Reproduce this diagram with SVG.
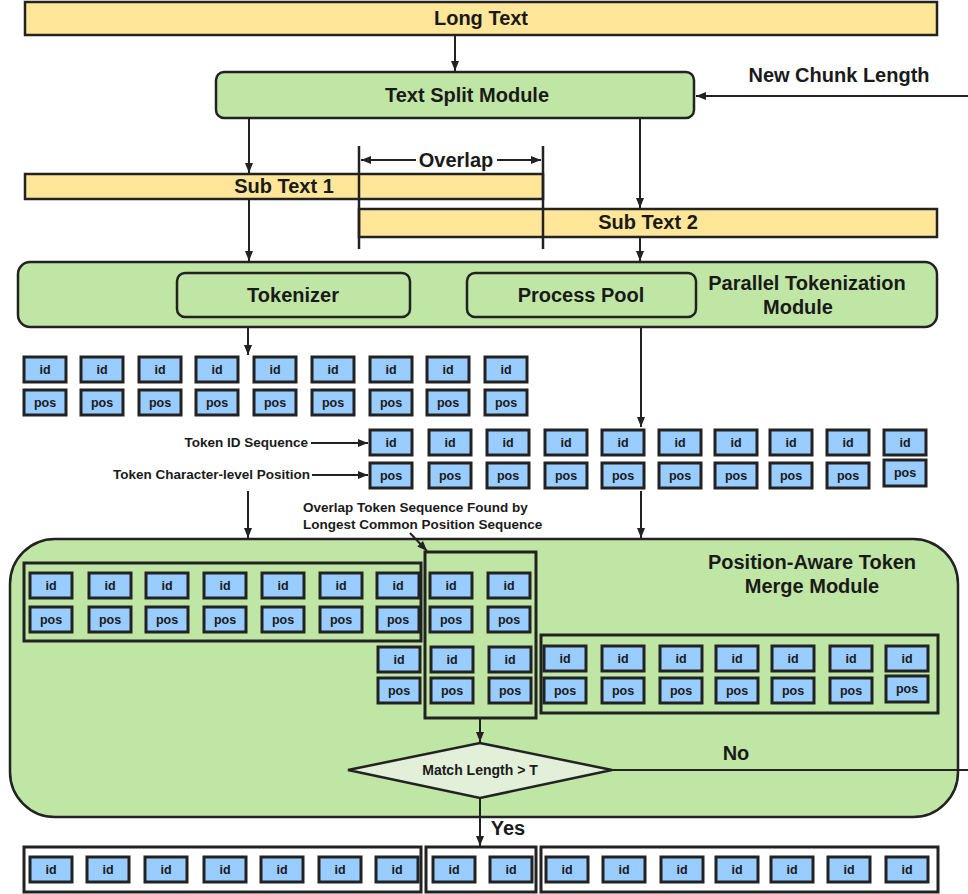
<svg xmlns="http://www.w3.org/2000/svg" width="968" height="894" viewBox="0 0 968 894">
  <defs>
    <marker id="arrow" markerUnits="userSpaceOnUse" markerWidth="10" markerHeight="8" refX="10" refY="4" orient="auto-start-reverse">
      <path d="M0,0 L10,4 L0,8 z" fill="#222"/>
    </marker>
    <style>
      .lbl { font-family: "Liberation Sans", Arial, sans-serif; font-weight: bold; fill: #1a1a1a; }
      .big { font-size: 20px; }
      .small { font-size: 13.5px; }
      .tok { font-size: 12.5px; }
      .mid { text-anchor: middle; }
      .end { text-anchor: end; }
      .yellow { fill: #FFE699; stroke: #222; stroke-width: 2.5; }
      .green { fill: #C0E6A5; stroke: #222; stroke-width: 2.5; }
      .frame { fill: none; stroke: #222; stroke-width: 3; }
      .box { fill: #99CCFF; stroke: #222; stroke-width: 3; }
      .conn { stroke: #222; stroke-width: 2; fill: none; }
      .guide { stroke: #222; stroke-width: 2.5; }
    </style>
  </defs>

  <!-- Input text -->
  <g id="long-text">
    <rect class="yellow" x="25" y="2" width="912" height="33"/>
    <text class="lbl big mid" x="481" y="25">Long Text</text>
  </g>

  <g id="text-split-module">
    <rect class="green" x="216" y="72" width="478" height="46" rx="8"/>
    <text class="lbl big mid" x="467" y="102">Text Split Module</text>
  </g>

  <g id="new-chunk-length">
    <text class="lbl big mid" x="839" y="82">New Chunk Length</text>
  </g>

  <!-- Overlapping sub texts -->
  <g id="sub-text-1">
    <rect class="yellow" x="25" y="174" width="518" height="25"/>
    <text class="lbl big mid" x="284" y="193">Sub Text 1</text>
  </g>
  <g id="sub-text-2">
    <rect class="yellow" x="359" y="209" width="578" height="28"/>
    <text class="lbl big mid" x="648" y="229">Sub Text 2</text>
  </g>

  <g id="overlap">
    <line class="guide" x1="359" y1="146" x2="359" y2="249"/>
    <line class="guide" x1="543" y1="146" x2="543" y2="249"/>
    <line class="conn" x1="361" y1="160" x2="416" y2="160" marker-start="url(#arrow)"/>
    <line class="conn" x1="497" y1="160" x2="541" y2="160" marker-end="url(#arrow)"/>
    <text class="lbl big mid" x="456" y="167">Overlap</text>
  </g>

  <!-- Parallel tokenization -->
  <g id="parallel-tokenization-module">
    <rect class="green" x="18" y="262" width="919" height="65" rx="12"/>
    <text class="lbl big mid" x="807" y="290">Parallel Tokenization</text>
    <text class="lbl big mid" x="798" y="314">Module</text>
  </g>
  <g id="tokenizer">
    <rect class="green" x="177" y="273" width="233" height="44" rx="8"/>
    <text class="lbl big mid" x="293" y="302">Tokenizer</text>
  </g>
  <g id="process-pool">
    <rect class="green" x="467" y="273" width="229" height="44" rx="8"/>
    <text class="lbl big mid" x="581" y="302">Process Pool</text>
  </g>

  <!-- Token rows from sub text 1 -->
  <g id="tokens-sub-text-1">
    <g class="box-row">
      <rect class="box" x="24" y="357" width="42" height="25"/><text class="lbl tok mid" x="45" y="374">id</text>
      <rect class="box" x="81" y="357" width="42" height="25"/><text class="lbl tok mid" x="102" y="374">id</text>
      <rect class="box" x="139" y="357" width="42" height="25"/><text class="lbl tok mid" x="160" y="374">id</text>
      <rect class="box" x="196" y="357" width="42" height="25"/><text class="lbl tok mid" x="217" y="374">id</text>
      <rect class="box" x="254" y="357" width="42" height="25"/><text class="lbl tok mid" x="275" y="374">id</text>
      <rect class="box" x="312" y="357" width="42" height="25"/><text class="lbl tok mid" x="333" y="374">id</text>
      <rect class="box" x="370" y="357" width="42" height="25"/><text class="lbl tok mid" x="391" y="374">id</text>
      <rect class="box" x="427" y="357" width="42" height="25"/><text class="lbl tok mid" x="448" y="374">id</text>
      <rect class="box" x="485" y="357" width="42" height="25"/><text class="lbl tok mid" x="506" y="374">id</text>
    </g>
    <g class="box-row">
      <rect class="box" x="24" y="390" width="42" height="25"/><text class="lbl tok mid" x="45" y="407">pos</text>
      <rect class="box" x="81" y="390" width="42" height="25"/><text class="lbl tok mid" x="102" y="407">pos</text>
      <rect class="box" x="139" y="390" width="42" height="25"/><text class="lbl tok mid" x="160" y="407">pos</text>
      <rect class="box" x="196" y="390" width="42" height="25"/><text class="lbl tok mid" x="217" y="407">pos</text>
      <rect class="box" x="254" y="390" width="42" height="25"/><text class="lbl tok mid" x="275" y="407">pos</text>
      <rect class="box" x="312" y="390" width="42" height="25"/><text class="lbl tok mid" x="333" y="407">pos</text>
      <rect class="box" x="370" y="390" width="42" height="25"/><text class="lbl tok mid" x="391" y="407">pos</text>
      <rect class="box" x="427" y="390" width="42" height="25"/><text class="lbl tok mid" x="448" y="407">pos</text>
      <rect class="box" x="485" y="390" width="42" height="25"/><text class="lbl tok mid" x="506" y="407">pos</text>
    </g>
  </g>

  <!-- Token rows from sub text 2 -->
  <g id="tokens-sub-text-2">
    <g class="box-row">
      <rect class="box" x="370" y="430" width="42" height="25"/><text class="lbl tok mid" x="391" y="447">id</text>
      <rect class="box" x="429" y="430" width="42" height="25"/><text class="lbl tok mid" x="450" y="447">id</text>
      <rect class="box" x="487" y="430" width="42" height="25"/><text class="lbl tok mid" x="508" y="447">id</text>
      <rect class="box" x="545" y="430" width="42" height="25"/><text class="lbl tok mid" x="566" y="447">id</text>
      <rect class="box" x="602" y="430" width="42" height="25"/><text class="lbl tok mid" x="623" y="447">id</text>
      <rect class="box" x="659" y="430" width="42" height="25"/><text class="lbl tok mid" x="680" y="447">id</text>
      <rect class="box" x="715" y="430" width="42" height="25"/><text class="lbl tok mid" x="736" y="447">id</text>
      <rect class="box" x="770" y="430" width="42" height="25"/><text class="lbl tok mid" x="791" y="447">id</text>
      <rect class="box" x="827" y="430" width="42" height="25"/><text class="lbl tok mid" x="848" y="447">id</text>
      <rect class="box" x="884" y="430" width="42" height="25"/><text class="lbl tok mid" x="905" y="447">id</text>
    </g>
    <g class="box-row">
      <rect class="box" x="370" y="463" width="42" height="25"/><text class="lbl tok mid" x="391" y="480">pos</text>
      <rect class="box" x="429" y="463" width="42" height="25"/><text class="lbl tok mid" x="450" y="480">pos</text>
      <rect class="box" x="487" y="463" width="42" height="25"/><text class="lbl tok mid" x="508" y="480">pos</text>
      <rect class="box" x="545" y="463" width="42" height="25"/><text class="lbl tok mid" x="566" y="480">pos</text>
      <rect class="box" x="602" y="463" width="42" height="25"/><text class="lbl tok mid" x="623" y="480">pos</text>
      <rect class="box" x="659" y="463" width="42" height="25"/><text class="lbl tok mid" x="680" y="480">pos</text>
      <rect class="box" x="715" y="463" width="42" height="25"/><text class="lbl tok mid" x="736" y="480">pos</text>
      <rect class="box" x="770" y="463" width="42" height="25"/><text class="lbl tok mid" x="791" y="480">pos</text>
      <rect class="box" x="827" y="463" width="42" height="25"/><text class="lbl tok mid" x="848" y="480">pos</text>
      <rect class="box" x="884" y="460" width="42" height="26"/><text class="lbl tok mid" x="905" y="477">pos</text>
    </g>
  </g>

  <g id="token-legend">
    <text class="lbl small end" x="308" y="447">Token ID Sequence</text>
    <text class="lbl small end" x="310" y="479">Token Character-level Position</text>
  </g>

  <!-- Merge module -->
  <g id="merge-module">
    <rect class="green" x="10" y="539" width="948" height="278" rx="45"/>
    <text class="lbl big mid" x="812" y="569">Position-Aware Token</text>
    <text class="lbl big mid" x="812" y="593">Merge Module</text>
  </g>

  <g id="overlap-note">
    <text class="lbl small" x="303" y="512">Overlap Token Sequence Found by</text>
    <text class="lbl small" x="303" y="529">Longest Common Position Sequence</text>
  </g>

  <g id="merge-left-tokens">
    <rect class="frame" x="24" y="563" width="397" height="78"/>
    <rect class="box" x="30" y="573" width="42" height="25"/><text class="lbl tok mid" x="51" y="590">id</text>
    <rect class="box" x="89" y="573" width="42" height="25"/><text class="lbl tok mid" x="110" y="590">id</text>
    <rect class="box" x="146" y="573" width="42" height="25"/><text class="lbl tok mid" x="167" y="590">id</text>
    <rect class="box" x="204" y="573" width="42" height="25"/><text class="lbl tok mid" x="225" y="590">id</text>
    <rect class="box" x="262" y="573" width="42" height="25"/><text class="lbl tok mid" x="283" y="590">id</text>
    <rect class="box" x="320" y="573" width="42" height="25"/><text class="lbl tok mid" x="341" y="590">id</text>
    <rect class="box" x="377" y="573" width="42" height="25"/><text class="lbl tok mid" x="398" y="590">id</text>
    <rect class="box" x="30" y="607" width="42" height="25"/><text class="lbl tok mid" x="51" y="624">pos</text>
    <rect class="box" x="89" y="607" width="42" height="25"/><text class="lbl tok mid" x="110" y="624">pos</text>
    <rect class="box" x="146" y="607" width="42" height="25"/><text class="lbl tok mid" x="167" y="624">pos</text>
    <rect class="box" x="204" y="607" width="42" height="25"/><text class="lbl tok mid" x="225" y="624">pos</text>
    <rect class="box" x="262" y="607" width="42" height="25"/><text class="lbl tok mid" x="283" y="624">pos</text>
    <rect class="box" x="320" y="607" width="42" height="25"/><text class="lbl tok mid" x="341" y="624">pos</text>
    <rect class="box" x="377" y="607" width="42" height="25"/><text class="lbl tok mid" x="398" y="624">pos</text>
  </g>

  <g id="merge-extra-token">
    <rect class="box" x="378" y="647" width="42" height="25"/><text class="lbl tok mid" x="399" y="664">id</text>
    <rect class="box" x="378" y="678" width="42" height="25"/><text class="lbl tok mid" x="399" y="695">pos</text>
  </g>

  <g id="merge-overlap-tokens">
    <rect class="frame" x="425" y="552" width="111" height="166"/>
    <rect class="box" x="430" y="573" width="42" height="25"/><text class="lbl tok mid" x="451" y="590">id</text>
    <rect class="box" x="488" y="573" width="42" height="25"/><text class="lbl tok mid" x="509" y="590">id</text>
    <rect class="box" x="430" y="607" width="42" height="25"/><text class="lbl tok mid" x="451" y="624">pos</text>
    <rect class="box" x="488" y="607" width="42" height="25"/><text class="lbl tok mid" x="509" y="624">pos</text>
    <rect class="box" x="431" y="647" width="42" height="25"/><text class="lbl tok mid" x="452" y="664">id</text>
    <rect class="box" x="489" y="647" width="42" height="25"/><text class="lbl tok mid" x="510" y="664">id</text>
    <rect class="box" x="431" y="678" width="42" height="25"/><text class="lbl tok mid" x="452" y="695">pos</text>
    <rect class="box" x="489" y="678" width="42" height="25"/><text class="lbl tok mid" x="510" y="695">pos</text>
  </g>

  <g id="merge-right-tokens">
    <rect class="frame" x="541" y="635" width="397" height="78"/>
    <rect class="box" x="544" y="646" width="42" height="25"/><text class="lbl tok mid" x="565" y="663">id</text>
    <rect class="box" x="602" y="646" width="42" height="25"/><text class="lbl tok mid" x="623" y="663">id</text>
    <rect class="box" x="660" y="646" width="42" height="25"/><text class="lbl tok mid" x="681" y="663">id</text>
    <rect class="box" x="716" y="646" width="42" height="25"/><text class="lbl tok mid" x="737" y="663">id</text>
    <rect class="box" x="772" y="646" width="42" height="25"/><text class="lbl tok mid" x="793" y="663">id</text>
    <rect class="box" x="830" y="646" width="42" height="25"/><text class="lbl tok mid" x="851" y="663">id</text>
    <rect class="box" x="886" y="646" width="42" height="25"/><text class="lbl tok mid" x="907" y="663">id</text>
    <rect class="box" x="544" y="678" width="42" height="25"/><text class="lbl tok mid" x="565" y="695">pos</text>
    <rect class="box" x="602" y="678" width="42" height="25"/><text class="lbl tok mid" x="623" y="695">pos</text>
    <rect class="box" x="660" y="678" width="42" height="25"/><text class="lbl tok mid" x="681" y="695">pos</text>
    <rect class="box" x="716" y="678" width="42" height="25"/><text class="lbl tok mid" x="737" y="695">pos</text>
    <rect class="box" x="772" y="678" width="42" height="25"/><text class="lbl tok mid" x="793" y="695">pos</text>
    <rect class="box" x="830" y="678" width="42" height="25"/><text class="lbl tok mid" x="851" y="695">pos</text>
    <rect class="box" x="886" y="676" width="42" height="26"/><text class="lbl tok mid" x="907" y="693">pos</text>
  </g>

  <g id="match-decision">
    <polygon points="348,770 480,743 612,770 480,798" fill="#E2F0D9" stroke="#222" stroke-width="2.5"/>
    <text class="lbl mid" font-size="14" x="480" y="775">Match Length &gt; T</text>
  </g>

  <!-- Merged output -->
  <g id="output-tokens">
    <rect class="frame" x="24" y="847" width="397" height="45"/>
    <rect class="frame" x="426" y="847" width="110" height="45"/>
    <rect class="frame" x="541" y="847" width="397" height="45"/>
    <rect class="box" x="30" y="857" width="42" height="25"/><text class="lbl tok mid" x="51" y="874">id</text>
    <rect class="box" x="87" y="857" width="42" height="25"/><text class="lbl tok mid" x="108" y="874">id</text>
    <rect class="box" x="145" y="857" width="42" height="25"/><text class="lbl tok mid" x="166" y="874">id</text>
    <rect class="box" x="204" y="857" width="42" height="25"/><text class="lbl tok mid" x="225" y="874">id</text>
    <rect class="box" x="261" y="857" width="42" height="25"/><text class="lbl tok mid" x="282" y="874">id</text>
    <rect class="box" x="319" y="857" width="42" height="25"/><text class="lbl tok mid" x="340" y="874">id</text>
    <rect class="box" x="376" y="857" width="42" height="25"/><text class="lbl tok mid" x="397" y="874">id</text>
    <rect class="box" x="433" y="857" width="42" height="25"/><text class="lbl tok mid" x="454" y="874">id</text>
    <rect class="box" x="490" y="857" width="42" height="25"/><text class="lbl tok mid" x="511" y="874">id</text>
    <rect class="box" x="546" y="857" width="42" height="25"/><text class="lbl tok mid" x="567" y="874">id</text>
    <rect class="box" x="603" y="857" width="42" height="25"/><text class="lbl tok mid" x="624" y="874">id</text>
    <rect class="box" x="661" y="857" width="42" height="25"/><text class="lbl tok mid" x="682" y="874">id</text>
    <rect class="box" x="716" y="857" width="42" height="25"/><text class="lbl tok mid" x="737" y="874">id</text>
    <rect class="box" x="771" y="857" width="42" height="25"/><text class="lbl tok mid" x="792" y="874">id</text>
    <rect class="box" x="828" y="857" width="42" height="25"/><text class="lbl tok mid" x="849" y="874">id</text>
    <rect class="box" x="886" y="857" width="42" height="25"/><text class="lbl tok mid" x="907" y="874">id</text>
  </g>

  <!-- Connectors -->
  <g id="connectors">
    <line class="conn" x1="455" y1="36" x2="455" y2="71" marker-end="url(#arrow)"/>
    <line class="conn" x1="968" y1="96" x2="696" y2="96" marker-end="url(#arrow)"/>
    <line class="conn" x1="249" y1="119" x2="249" y2="173" marker-end="url(#arrow)"/>
    <line class="conn" x1="640" y1="119" x2="640" y2="208" marker-end="url(#arrow)"/>
    <line class="conn" x1="249" y1="200" x2="249" y2="261" marker-end="url(#arrow)"/>
    <line class="conn" x1="640" y1="238" x2="640" y2="261" marker-end="url(#arrow)"/>
    <line class="conn" x1="248" y1="328" x2="248" y2="355" marker-end="url(#arrow)"/>
    <line class="conn" x1="641" y1="328" x2="641" y2="427" marker-end="url(#arrow)"/>
    <line class="conn" x1="311" y1="443" x2="368" y2="443" marker-end="url(#arrow)"/>
    <line class="conn" x1="312" y1="475" x2="368" y2="475" marker-end="url(#arrow)"/>
    <line class="conn" x1="248" y1="491" x2="248" y2="538" marker-end="url(#arrow)"/>
    <line class="conn" x1="641" y1="491" x2="641" y2="538" marker-end="url(#arrow)"/>
    <line class="conn" x1="410" y1="533" x2="427" y2="551" marker-end="url(#arrow)"/>
    <line class="conn" x1="480" y1="719" x2="480" y2="742" marker-end="url(#arrow)"/>
    <line class="conn" x1="612" y1="770" x2="968" y2="770"/>
    <line class="conn" x1="480" y1="799" x2="480" y2="846" marker-end="url(#arrow)"/>
    <text class="lbl big mid" x="736" y="760">No</text>
    <text class="lbl big mid" x="508" y="835">Yes</text>
  </g>
</svg>
